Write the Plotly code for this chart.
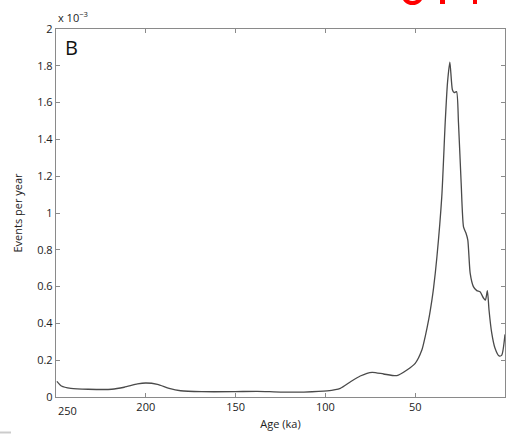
import plotly.graph_objects as go

# Data (age in ka, events per year in units of 1e-3)
age = [249.5, 247, 241.7, 232, 219, 212, 204.6, 200, 193.5, 187, 180.6, 169, 151, 138, 125, 112,
       99, 91.7, 86, 80.6, 74, 67.6, 60.2, 54.6, 50, 46.3, 44.4, 42.5, 40.7, 39.8, 37.9, 35.2,
       33.3, 32, 30.7, 29.3, 28.3, 27, 25.9, 24.4, 23.1, 21.7, 20.7, 19.4, 17.6, 15.7, 13.9,
       12, 10.9, 9.8, 8.9, 7.4, 5.6, 3.3, 1.8, 0]
rate = [0.085, 0.06, 0.047, 0.042, 0.042, 0.053, 0.071, 0.076, 0.069, 0.047, 0.034, 0.029,
        0.029, 0.031, 0.027, 0.027, 0.033, 0.047, 0.083, 0.114, 0.134, 0.125, 0.116, 0.147,
        0.183, 0.255, 0.33, 0.42, 0.527, 0.59, 0.762, 1.089, 1.49, 1.71, 1.82, 1.67, 1.654,
        1.66, 1.49, 1.16, 0.925, 0.89, 0.853, 0.673, 0.60, 0.578, 0.572, 0.538, 0.527, 0.578,
        0.473, 0.348, 0.266, 0.223, 0.228, 0.34]
xticks = [200, 150, 100, 50, 0]
xticktext = ["200", "150", "100", "50", "0"]
yticks = [0, 0.2, 0.4, 0.6, 0.8, 1, 1.2, 1.4, 1.6, 1.8, 2]
yticktext = ["0", "0.2", "0.4", "0.6", "0.8", "1", "1.2", "1.4", "1.6", "1.8", "2"]

W, H = 506, 437
L, R, T, B = 56, 1, 29, 40
pw, ph = W - L - R, H - T - B

def px(x):
    return (x - L) / pw

def py(y):
    return (H - B - y) / ph

fig = go.Figure()
fig.add_trace(go.Scatter(x=age, y=rate, mode="lines",
                         line=dict(color="#4a4a4a", width=1.3, shape="spline", smoothing=0.6),
                         hoverinfo="skip", showlegend=False))

axis_common = dict(showline=True, linecolor="#8a8a8a", linewidth=1.3, mirror="ticks",
                   ticks="inside", ticklen=4, tickcolor="#8a8a8a", showgrid=False,
                   zeroline=False, tickfont=dict(family="Open Sans", size=11, color="#222"))

fig.update_xaxes(range=[250, 0], tickvals=xticks, ticktext=xticktext,
                 title=dict(text="Age (ka)", font=dict(family="Open Sans", size=11, color="#222"),
                            standoff=6), **axis_common)
fig.update_yaxes(range=[0, 2], tickvals=yticks, ticktext=yticktext,
                 title=dict(text="Events per year", font=dict(family="Open Sans", size=11, color="#222"),
                            standoff=12), **axis_common)

annotations = [
    dict(text="250", x=px(67), y=py(410), xref="paper", yref="paper", showarrow=False,
         font=dict(family="Open Sans", size=11, color="#222"), xanchor="center", yanchor="middle"),
    dict(text="x 10<sup>−3</sup>", x=px(56), y=py(17), xref="paper", yref="paper", showarrow=False,
         font=dict(family="Open Sans", size=11, color="#222"), xanchor="left", yanchor="middle"),
    dict(text="B", x=px(63), y=py(47), xref="paper", yref="paper", showarrow=False,
         font=dict(family="Open Sans", size=20, color="#111"), xanchor="left", yanchor="middle"),
]

shapes = [
    dict(type="circle", xref="paper", yref="paper", x0=px(403), x1=px(422), y0=py(3), y1=py(-16),
         line=dict(color="red", width=4)),
    dict(type="rect", xref="paper", yref="paper", x0=px(440), x1=px(445), y0=py(4), y1=py(-2),
         line=dict(width=0), fillcolor="red"),
    dict(type="rect", xref="paper", yref="paper", x0=px(473), x1=px(477), y0=py(4), y1=py(-2),
         line=dict(width=0), fillcolor="red"),
    dict(type="line", xref="paper", yref="paper", x0=px(0), x1=px(11), y0=py(432.5), y1=py(432.5),
         line=dict(color="#cccccc", width=2)),
]

fig.update_layout(width=W, height=H, margin=dict(l=L, r=R, t=T, b=B),
                  plot_bgcolor="white", paper_bgcolor="white",
                  annotations=annotations, shapes=shapes,
                  font=dict(family="Open Sans"))

fig.write_html("out.html")
